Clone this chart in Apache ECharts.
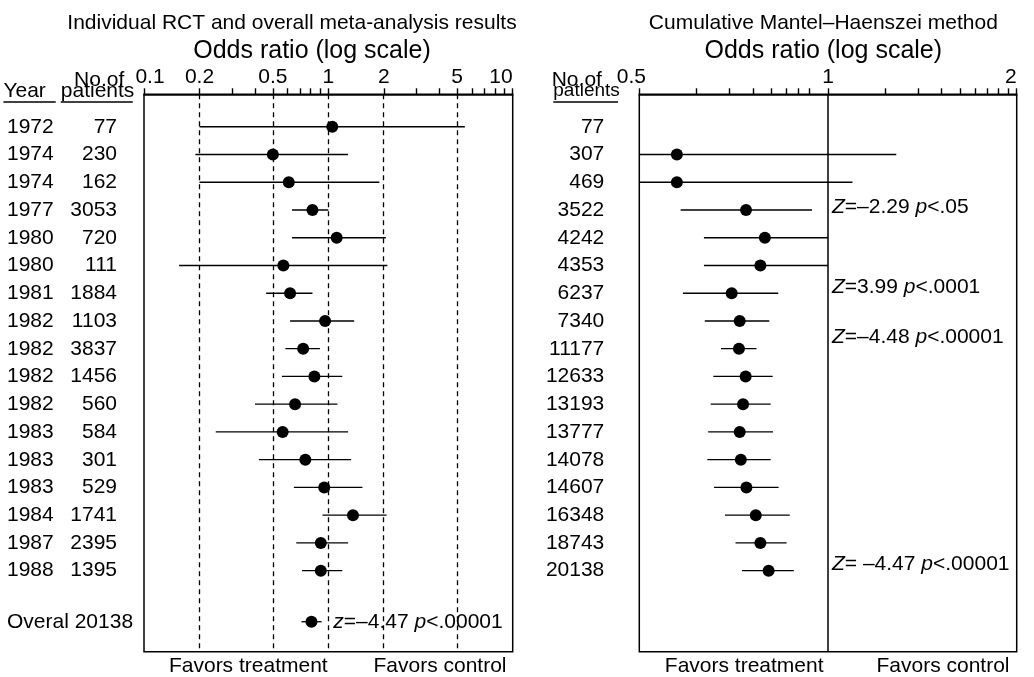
<!DOCTYPE html>
<html>
<head>
<meta charset="utf-8">
<script src="https://cdn.jsdelivr.net/npm/echarts@6/dist/echarts.min.js"></script>
<style>
  html, body { margin: 0; padding: 0; background: #fff; }
  #chart { width: 1034px; height: 677px; }
</style>
</head>
<body>
<div id="chart"></div>
<script>
// ---- Individual trials (left panel) ----
const trialYears = [1972, 1974, 1974, 1977, 1980, 1980, 1981, 1982, 1982, 1982, 1982, 1983, 1983, 1983, 1984, 1987, 1988];
const trialN     = [77, 230, 162, 3053, 720, 111, 1884, 1103, 3837, 1456, 560, 584, 301, 529, 1741, 2395, 1395];
const trialOR    = [1.05, 0.50, 0.61, 0.82, 1.11, 0.57, 0.62, 0.96, 0.73, 0.84, 0.66, 0.565, 0.75, 0.95, 1.36, 0.91, 0.91];
const trialLo    = [0.20, 0.19, 0.20, 0.635, 0.635, 0.155, 0.46, 0.62, 0.585, 0.56, 0.40, 0.245, 0.42, 0.65, 0.93, 0.67, 0.72];
const trialHi    = [5.5, 1.28, 1.89, 1.0, 2.05, 2.09, 0.82, 1.38, 0.90, 1.19, 1.12, 1.28, 1.33, 1.53, 2.07, 1.28, 1.19];

// ---- Pooled result ----
const overallLabel = 'Overal';
const overallN  = 20138;
const overallOR = 0.81;
const overallLo = 0.715;
const overallHi = 0.92;
const overallNote = '{i|z}=–4.47 {i|p}<.00001';

// ---- Cumulative Mantel–Haenszel (right panel) ----
const cumN  = [77, 307, 469, 3522, 4242, 4353, 6237, 7340, 11177, 12633, 13193, 13777, 14078, 14607, 16348, 18743, 20138];
const cumOR = [null, 0.574, 0.574, 0.740, 0.793, 0.780, 0.702, 0.723, 0.721, 0.739, 0.732, 0.723, 0.726, 0.741, 0.767, 0.780, 0.804];
const cumLo = [null, 0.5, 0.5, 0.582, 0.634, 0.634, 0.587, 0.636, 0.675, 0.656, 0.650, 0.644, 0.642, 0.658, 0.685, 0.712, 0.729];
const cumHi = [null, 1.285, 1.094, 0.943, 1.0, 1.0, 0.833, 0.806, 0.769, 0.816, 0.81, 0.817, 0.81, 0.834, 0.869, 0.859, 0.882];
const cumNotes = ['{i|Z}=–2.29 {i|p}<.05', '{i|Z}=3.99 {i|p}<.0001', '{i|Z}=–4.48 {i|p}<.00001', '{i|Z}= –4.47 {i|p}<.00001'];

// ---- Axis ticks ----
const trialTicks      = [0.1, 0.2, 0.5, 1, 2, 5, 10];
const trialMinorTicks = [0.3, 0.4, 0.6, 0.7, 0.8, 0.9, 3, 4, 6, 7, 8, 9];
const trialRefLines   = [0.2, 0.5, 1, 2, 5];
const cumTicks        = [0.5, 1, 2];
const cumMinorTicks   = [0.616, 0.696, 0.759, 0.812, 0.858, 0.898, 0.935,
                         1.232, 1.392, 1.518, 1.623, 1.715, 1.796, 1.870, 1.937];

// ---- Layout ----
const FONT = '"Liberation Sans", Arial, Helvetica, sans-serif';
const FS = 21;
const Y_MIN = -1.17, Y_MAX = 18.92;
const OVERALL_ROW = 17.84;
const NOTE_ROWS = [2.90, 5.79, 7.57, 15.76];
const GRID_TOP = 94.3, GRID_H = 557.4;
const TICK_LEN = 6;

const lg10 = v => Math.log10(v);
const lg2 = v => Math.log2(v);
const ITALIC = { i: { fontStyle: 'italic', fontSize: FS, fontFamily: FONT, fill: '#000' } };

function textEl(x, y, text, align, size, rich) {
  return {
    type: 'text', x: x, y: y,
    style: {
      text: text, fill: '#000', fontSize: size || FS, fontFamily: FONT,
      align: align || 'left', verticalAlign: 'middle', rich: rich
    }
  };
}

// Tick label text; the lowest label is nudged with padding so it clears the header
function tickFormatter(base) {
  return function (v) {
    const s = String(+Math.pow(base, v).toPrecision(2));
    return Math.abs(v + 1) < 1e-9 ? '{m|' + s + '}' : s;
  };
}

function logAxis(gridIndex, ticks, toAxis, base, minPad) {
  const ax = {
    gridIndex: gridIndex, type: 'value', position: 'top', min: -1, max: 1,
    axisLine: { show: base != null, onZero: false, lineStyle: { color: '#000', width: 1.5 } },
    axisTick: { show: true, length: TICK_LEN, customValues: ticks.map(toAxis), lineStyle: { color: '#000', width: 1.4 } },
    axisLabel: { show: false },
    splitLine: { show: false }
  };
  if (base != null) {
    ax.axisLabel = {
      show: true, customValues: ticks.map(toAxis), formatter: tickFormatter(base),
      color: '#000', fontSize: FS, fontFamily: FONT, margin: 7, alignMaxLabel: 'right',
      rich: { m: { fontSize: FS, fontFamily: FONT, color: '#000', padding: minPad } }
    };
  }
  return ax;
}

function ciSeries(axisIdx, rows, refLines, dashed) {
  return {
    type: 'custom', xAxisIndex: axisIdx, yAxisIndex: axisIdx === 0 ? 0 : 1,
    data: rows, encode: { x: [1, 2], y: 0 }, silent: true, z: 3,
    renderItem: function (params, api) {
      const a = api.coord([api.value(1), api.value(0)]);
      const b = api.coord([api.value(2), api.value(0)]);
      return { type: 'line', shape: { x1: a[0], y1: a[1], x2: b[0], y2: b[1] },
               style: { stroke: '#000', lineWidth: 1.3 } };
    },
    markLine: {
      silent: true, symbol: ['none', 'none'], label: { show: false },
      lineStyle: { color: '#000', width: dashed ? 1.3 : 1.5, type: dashed ? [5, 4] : 'solid', opacity: 1 },
      data: refLines.map(v => ({ xAxis: v }))
    }
  };
}

// Left panel rows
const trialCI = trialYears.map((_, i) => [i, lg10(trialLo[i]), lg10(trialHi[i])]);
trialCI.push([OVERALL_ROW, lg10(overallLo), lg10(overallHi)]);
const trialDots = trialYears.map((_, i) => [lg10(trialOR[i]), i]);
trialDots.push([lg10(overallOR), OVERALL_ROW]);

// Right panel rows (first trial alone gives no estimate)
const cumCI = [], cumDots = [];
cumN.forEach((_, i) => {
  if (cumOR[i] == null) return;
  cumCI.push([i, lg2(cumLo[i]), lg2(cumHi[i])]);
  cumDots.push([lg2(cumOR[i]), i]);
});

const dotStyle = { color: '#000', opacity: 1 };

const option = {
  animation: false,
  backgroundColor: '#fff',
  grid: [
    { left: 144, top: GRID_TOP, width: 368.7, height: GRID_H, show: true, borderColor: '#000', borderWidth: 1.5, backgroundColor: 'transparent' },
    { left: 639.3, top: GRID_TOP, width: 377.4, height: GRID_H, show: true, borderColor: '#000', borderWidth: 1.5, backgroundColor: 'transparent' }
  ],
  xAxis: [
    logAxis(0, trialTicks, lg10, 10, [0, 0, 0, 12]),
    logAxis(0, trialMinorTicks, lg10, null),
    logAxis(1, cumTicks, lg2, 2, [0, 16, 0, 0]),
    logAxis(1, cumMinorTicks, lg2, null)
  ],
  yAxis: [
    { gridIndex: 0, type: 'value', inverse: true, min: Y_MIN, max: Y_MAX, show: false },
    { gridIndex: 1, type: 'value', inverse: true, min: Y_MIN, max: Y_MAX, show: false }
  ],
  series: [
    ciSeries(0, trialCI, trialRefLines.map(lg10), true),
    {
      type: 'scatter', xAxisIndex: 0, yAxisIndex: 0, data: trialDots,
      symbol: 'circle', symbolSize: 12, itemStyle: dotStyle, silent: true, z: 4
    },
    {
      // year / number of patients / pooled note
      type: 'custom', xAxisIndex: 0, yAxisIndex: 0, silent: true,
      data: trialYears.map((_, i) => [i]).concat([[OVERALL_ROW]]),
      encode: { y: 0 },
      renderItem: function (params, api) {
        const row = api.value(0);
        const y = api.coord([0, row])[1];
        const i = params.dataIndex;
        if (i < trialYears.length) {
          return { type: 'group', children: [
            textEl(7, y, String(trialYears[i]), 'left'),
            textEl(117, y, String(trialN[i]), 'right')
          ] };
        }
        const x1 = api.coord([0, row])[0];
        return { type: 'group', children: [
          textEl(7, y, overallLabel + ' ' + overallN, 'left'),
          textEl(x1 + 5, y, overallNote, 'left', FS, ITALIC)
        ] };
      }
    },
    ciSeries(2, cumCI, [0], false),
    {
      type: 'scatter', xAxisIndex: 2, yAxisIndex: 1, data: cumDots,
      symbol: 'circle', symbolSize: 12, itemStyle: dotStyle, silent: true, z: 4
    },
    {
      type: 'custom', xAxisIndex: 2, yAxisIndex: 1, silent: true,
      data: cumN.map((_, i) => [i]), encode: { y: 0 },
      renderItem: function (params, api) {
        const y = api.coord([0, api.value(0)])[1];
        return textEl(604.3, y, String(cumN[params.dataIndex]), 'right');
      }
    },
    {
      // Z statistics beside the line of no effect
      type: 'custom', xAxisIndex: 2, yAxisIndex: 1, silent: true,
      data: NOTE_ROWS.map(r => [r]), encode: { y: 0 },
      renderItem: function (params, api) {
        const p = api.coord([0, api.value(0)]);
        return textEl(p[0] + 4, p[1], cumNotes[params.dataIndex], 'left', FS, ITALIC);
      }
    }
  ],
  graphic: [
    textEl(292, 23.5, 'Individual RCT and overall meta-analysis results', 'center'),
    textEl(312, 50.7, 'Odds ratio (log scale)', 'center', 25),
    textEl(124.3, 80.6, 'No.of', 'right'),
    textEl(3.4, 91, 'Year', 'left'),
    textEl(60.8, 91, 'patients', 'left'),
    { type: 'line', shape: { x1: 3.4, y1: 102, x2: 55.7, y2: 102 }, style: { stroke: '#000', lineWidth: 1.3 } },
    { type: 'line', shape: { x1: 60.8, y1: 102, x2: 132.8, y2: 102 }, style: { stroke: '#000', lineWidth: 1.3 } },
    textEl(823.3, 23.5, 'Cumulative Mantel–Haenszei method', 'center'),
    textEl(823.3, 50.7, 'Odds ratio (log scale)', 'center', 25),
    textEl(551.7, 80.6, 'No.of', 'left'),
    textEl(553.3, 91, 'patients', 'left', 19),
    { type: 'line', shape: { x1: 553.3, y1: 102, x2: 618, y2: 102 }, style: { stroke: '#000', lineWidth: 1.3 } },
    textEl(248.3, 666, 'Favors treatment', 'center'),
    textEl(440, 666, 'Favors control', 'center'),
    textEl(744.2, 666, 'Favors treatment', 'center'),
    textEl(943, 666, 'Favors control', 'center')
  ]
};

const chart = echarts.init(document.getElementById('chart'), null, { renderer: 'canvas' });
chart.setOption(option);
</script>
</body>
</html>
